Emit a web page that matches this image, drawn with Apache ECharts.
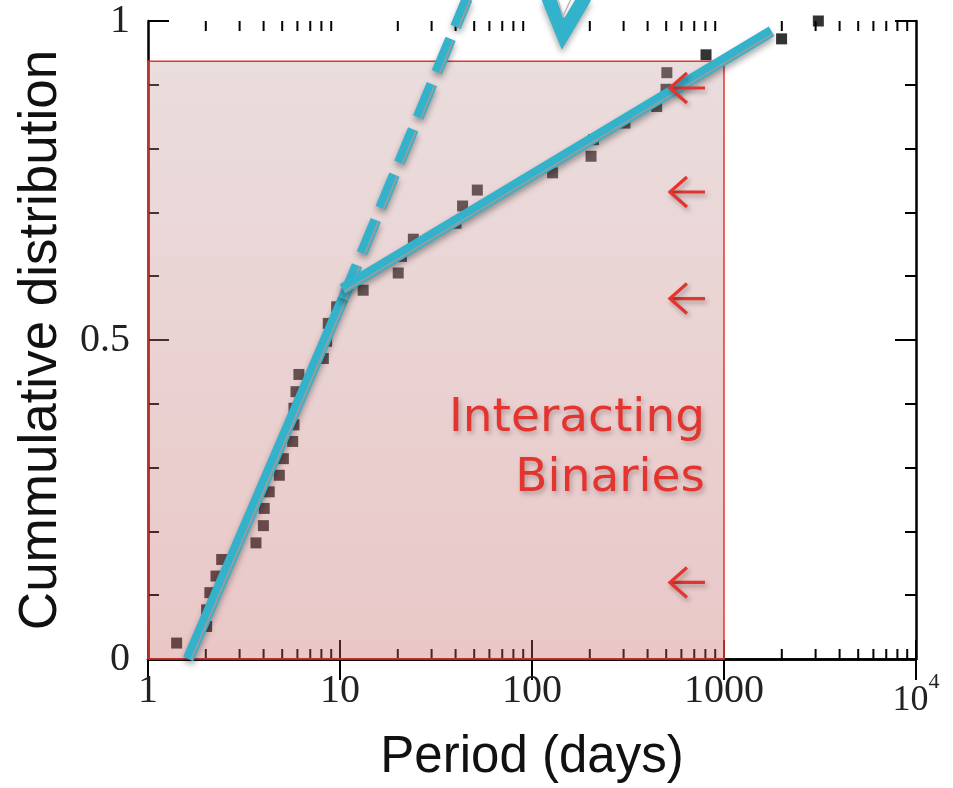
<!DOCTYPE html>
<html><head><meta charset="utf-8">
<script src="https://cdn.jsdelivr.net/npm/echarts@6/dist/echarts.min.js"></script>
<style>html,body{margin:0;padding:0;background:#fff}#c{width:953px;height:788px}</style>
</head><body><div id="c"></div>
<script>
// ---- data ----
const periods = [1.41,2.02,2.02,2.10,2.26,2.42,3.65,3.99,4.03,4.28,4.83,5.07,5.67,5.76,5.76,5.90,6.11,8.19,8.52,8.69,9.61,13.2,20.1,20.9,24.1,40.2,43.5,51.9,128,203,209,305,446,499,504,806,1995,3100];
const cumulative = [0.025,0.051,0.077,0.104,0.130,0.156,0.182,0.209,0.236,0.262,0.288,0.314,0.341,0.367,0.393,0.419,0.446,0.471,0.498,0.526,0.552,0.578,0.605,0.631,0.658,0.683,0.710,0.735,0.762,0.788,0.814,0.840,0.866,0.893,0.919,0.947,0.972,1.0];
const fitSteep = [1.62, 0.0, 10.4, 0.565];
const fitSteepExt = [10.4, 0.565, 46, 1.035];
const fitShallow = [10.3, 0.58, 1770, 0.984];
const boxRegion = [1, 0, 1000, 0.937];
const arrowY = [0.895, 0.732, 0.565, 0.12];
const arrowTipX = 523, arrowTailX = 796;
const xTickLabels = ['1','10','100','1000','10^4'];
const yTickLabels = ['0','0.5','1'];
const xMin = 1, xMax = 10000, yMin = 0, yMax = 1;
const regionLabel = ['Interacting', 'Binaries'];
const xName = 'Period (days)', yName = 'Cummulative distribution';

// minor tick positions for the log axis (2..9 per decade)
const minorX = [];
for (let d = 1; d < xMax; d *= 10) for (let k = 2; k <= 9; k++) minorX.push(k * d);

const CYAN = '#33b2cc', RED = '#e3342f';
const chart = echarts.init(document.getElementById('c'));

function fitLine(dashed) {
  return function (params, api) {
    const p0 = api.coord([api.value(0), api.value(1)]);
    const p1 = api.coord([api.value(2), api.value(3)]);
    const dx = p1[0] - p0[0], dy = p1[1] - p0[1], L = Math.hypot(dx, dy);
    const nx = -dy / L * 3.0, ny = dx / L * 3.0;
    const dash = dashed ? [36, 13] : null;
    return { type: 'group', children: [
      { type: 'line', shape: { x1: p0[0], y1: p0[1], x2: p1[0], y2: p1[1] },
        style: { stroke: CYAN, lineWidth: 11, lineDash: dash, lineCap: 'butt',
                 shadowBlur: 6, shadowColor: 'rgba(0,0,0,0.35)', shadowOffsetY: 4 } },
      { type: 'line', shape: { x1: p0[0] + nx, y1: p0[1] + ny, x2: p1[0] + nx, y2: p1[1] + ny },
        style: { stroke: '#9c9c9c', lineWidth: 1.8, lineDash: dash, lineCap: 'butt' } }
    ]};
  };
}

const axisLineStyle = { color: '#000', width: 2.5 };
const tickFont = { color: '#222', fontFamily: 'Liberation Serif', fontSize: 40 };
const option = {
  animation: false,
  backgroundColor: '#fff',
  grid: { left: 148, right: 37, top: 21, bottom: 126 },
  xAxis: [
    { type: 'log', logBase: 10, min: xMin, max: xMax, splitNumber: 4,
      axisLine: { lineStyle: axisLineStyle },
      axisTick: { inside: true, length: 19, lineStyle: { color: '#000', width: 2 } },
      splitLine: { show: false },
      axisLabel: Object.assign({ margin: 12,
        formatter: function (v) {
          const i = Math.round(Math.log10(v));
          const t = xTickLabels[i];
          if (t === '10^4') return '{a|10}{s|4}';
          return t;
        },
        rich: { a: { fontFamily: 'Liberation Serif', fontSize: 36, color: '#222', padding: [12, 0, 0, 0] },
                s: { fontFamily: 'Liberation Serif', fontSize: 22, color: '#222', verticalAlign: 'top' } } }, tickFont),
      name: xName, nameLocation: 'middle', nameGap: 73,
      nameTextStyle: { fontFamily: 'Liberation Sans', fontSize: 51, color: '#111' } },
    { type: 'log', logBase: 10, min: xMin, max: xMax, splitNumber: 4, position: 'top',
      axisLine: { lineStyle: axisLineStyle },
      axisTick: { inside: true, length: 21, lineStyle: { color: '#000', width: 2 } },
      axisLabel: { show: false }, splitLine: { show: false } }
  ],
  yAxis: [
    { type: 'value', min: yMin, max: yMax, interval: 0.5,
      axisLine: { show: true, lineStyle: axisLineStyle },
      axisTick: { show: true, inside: true, length: 21, lineStyle: { color: '#000', width: 2 } },
      minorTick: { show: true, splitNumber: 5, length: 11, lineStyle: { color: '#000', width: 2 } },
      splitLine: { show: false },
      axisLabel: Object.assign({ margin: 18,
        formatter: function (v) { return yTickLabels[Math.round(v * 2)]; } }, tickFont),
      name: yName, nameLocation: 'middle', nameGap: 80,
      nameTextStyle: { fontFamily: 'Liberation Sans', fontSize: 53, color: '#111' } },
    { type: 'value', min: yMin, max: yMax, interval: 0.5, position: 'right',
      axisLine: { show: true, lineStyle: axisLineStyle },
      axisTick: { show: true, inside: true, length: 21, lineStyle: { color: '#000', width: 2 } },
      minorTick: { show: true, splitNumber: 5, length: 11, lineStyle: { color: '#000', width: 2 } },
      splitLine: { show: false }, axisLabel: { show: false } }
  ],
  series: [
    { type: 'custom', name: 'minorTicks', silent: true, z: 1,
      data: minorX.map(v => [v]),
      renderItem: function (params, api) {
        const b = api.coord([api.value(0), yMin]);
        const t = api.coord([api.value(0), yMax]);
        return { type: 'group', children: [
          { type: 'line', shape: { x1: b[0], y1: b[1], x2: b[0], y2: b[1] - 10 }, style: { stroke: '#000', lineWidth: 2 } },
          { type: 'line', shape: { x1: t[0], y1: t[1], x2: t[0], y2: t[1] + 10 }, style: { stroke: '#000', lineWidth: 2 } }
        ]};
      } },
    { type: 'scatter', name: 'data', symbol: 'rect', symbolSize: 11, z: 2,
      itemStyle: { color: '#000' },
      data: periods.map((p, i) => [p, cumulative[i]]) },
    { type: 'custom', name: 'box', silent: true, z: 3,
      data: [boxRegion],
      renderItem: function (params, api) {
        const a = api.coord([api.value(0), api.value(1)]);
        const b = api.coord([api.value(2), api.value(3)]);
        return { type: 'rect',
          shape: { x: a[0], y: b[1], width: b[0] - a[0], height: a[1] - b[1] },
          style: { fill: new echarts.graphic.LinearGradient(0, 0, 0, 1, [
                      { offset: 0, color: 'rgba(198,161,161,0.36)' },
                      { offset: 1, color: 'rgba(196,100,100,0.36)' }]),
                   stroke: RED, lineWidth: 1.5 } };
      } },
    { type: 'custom', name: 'fitSteep', silent: true, z: 4, data: [fitSteep], renderItem: fitLine(false) },
    { type: 'custom', name: 'fitSteepExt', silent: true, z: 4, data: [fitSteepExt], renderItem: fitLine(true) },
    { type: 'custom', name: 'fitShallow', silent: true, z: 4, data: [fitShallow], renderItem: fitLine(false) },
    { type: 'custom', name: 'arrows', silent: true, z: 5,
      data: arrowY.map(y => [arrowTipX, y, arrowTailX]),
      renderItem: function (params, api) {
        const tip = api.coord([api.value(0), api.value(1)]);
        const tail = api.coord([api.value(2), api.value(1)]);
        const sh = { shadowBlur: 5, shadowColor: 'rgba(0,0,0,0.3)', shadowOffsetX: 2, shadowOffsetY: 3 };
        return { type: 'group', children: [
          { type: 'line', shape: { x1: tip[0] + 1, y1: tip[1], x2: tail[0], y2: tail[1] },
            style: Object.assign({ stroke: RED, lineWidth: 3.2 }, sh) },
          { type: 'polyline', shape: { points: [[tip[0] + 17, tip[1] - 15], [tip[0], tip[1]], [tip[0] + 17, tip[1] + 15]] },
            style: Object.assign({ stroke: RED, lineWidth: 3.2, fill: null }, sh) }
        ]};
      } }
  ],
  graphic: [
    { type: 'text', x: 705, y: 395, z: 100, silent: true,
      style: { text: regionLabel[0], fill: RED, font: '47px "DejaVu Sans"', align: 'right', verticalAlign: 'top',
               textShadowColor: 'rgba(0,0,0,0.25)', textShadowBlur: 5, textShadowOffsetX: 2, textShadowOffsetY: 3 } },
    { type: 'text', x: 705, y: 455, z: 100, silent: true,
      style: { text: regionLabel[1], fill: RED, font: '47px "DejaVu Sans"', align: 'right', verticalAlign: 'top',
               textShadowColor: 'rgba(0,0,0,0.25)', textShadowBlur: 5, textShadowOffsetX: 2, textShadowOffsetY: 3 } },
    { type: 'polyline', z: 100, silent: true,
      shape: { points: [[548, -3], [563, 34], [585, -3]] },
      style: { stroke: CYAN, lineWidth: 14, lineJoin: 'miter', fill: null,
               shadowBlur: 6, shadowColor: 'rgba(0,0,0,0.35)', shadowOffsetY: 4 } },
    { type: 'polyline', z: 101, silent: true,
      shape: { points: [[557, -3], [563, 16], [572, -3]] },
      style: { stroke: '#b9b9b9', lineWidth: 1.5, fill: null } }
  ]
};
chart.setOption(option);
</script></body></html>
